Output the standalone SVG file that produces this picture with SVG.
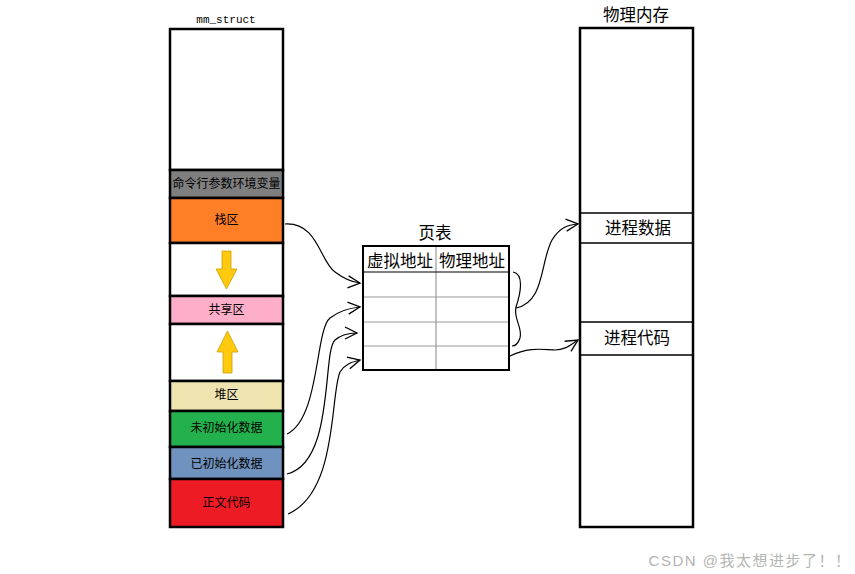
<svg xmlns="http://www.w3.org/2000/svg" width="855" height="574" viewBox="0 0 855 574">
<style>
.seg{stroke:#000;stroke-width:2.5}
.lbl{font-family:"Liberation Serif","Noto Sans CJK SC",serif;font-size:12px;text-anchor:middle;dominant-baseline:central;fill:#000}
.big{font-family:"Liberation Serif","Noto Sans CJK SC",serif;font-size:16.5px;text-anchor:middle;dominant-baseline:central;fill:#000}
.conn{fill:none;stroke:#000;stroke-width:1.2}
.ya{fill:#FFC90E;stroke:#C8A000;stroke-width:0.8}
.grid{stroke:#999;stroke-width:1.2}
</style>
<defs>
<marker id="ah" markerUnits="userSpaceOnUse" markerWidth="16" markerHeight="16" refX="13" refY="7" orient="auto" viewBox="0 0 16 14">
<path d="M1,1 L13,7 L1,13" fill="none" stroke="#000" stroke-width="1.3"/>
</marker>
</defs>
<rect width="855" height="574" fill="#fff"/>

<g id="mm_struct">
<text x="226" y="20" style="font-family:'Liberation Mono',monospace;font-size:11px;text-anchor:middle;dominant-baseline:central">mm_struct</text>
<rect x="170" y="29" width="113" height="141" fill="#fff" class="seg"/>
</g>
<g id="env"><rect x="170" y="170" width="113" height="28" fill="#7F7F7F" class="seg"/><text class="lbl" x="226.5" y="184">命令行参数环境变量</text></g>
<g id="stack"><rect x="170" y="198" width="113" height="45" fill="#FF7F27" class="seg"/><text class="lbl" x="226.5" y="220">栈区</text></g>
<g id="gap1"><rect x="170" y="243" width="113" height="53" fill="#fff" class="seg"/>
<path class="ya" d="M222,251 L231,251 L231,269 L237,269 L226.5,289 L216,269 L222,269 Z"/></g>
<g id="shared"><rect x="170" y="296" width="113" height="28" fill="#FFAEC9" class="seg"/><text class="lbl" x="226.5" y="310">共享区</text></g>
<g id="gap2"><rect x="170" y="324" width="113" height="57" fill="#fff" class="seg"/>
<path class="ya" d="M223,373 L232,373 L232,352 L238,352 L227.5,331 L217,352 L223,352 Z"/></g>
<g id="heap"><rect x="170" y="381" width="113" height="30" fill="#EFE4B0" class="seg"/><text class="lbl" x="226.5" y="395">堆区</text></g>
<g id="bss"><rect x="170" y="411" width="113" height="36" fill="#22B14C" class="seg"/><text class="lbl" x="226.5" y="428">未初始化数据</text></g>
<g id="data"><rect x="170" y="447" width="113" height="32" fill="#7092BE" class="seg"/><text class="lbl" x="226.5" y="464">已初始化数据</text></g>
<g id="text"><rect x="170" y="479" width="113" height="48" fill="#ED1C24" class="seg"/><text class="lbl" x="226.5" y="503">正文代码</text></g>

<g id="pagetable">
<text class="big" x="435" y="233">页表</text>
<rect x="363" y="246" width="146" height="124" fill="#fff" stroke="#000" stroke-width="2"/>
<line class="grid" x1="436" y1="247" x2="436" y2="369"/>
<line x1="364" y1="272" x2="508" y2="272" stroke="#000" stroke-width="1.2"/>
<line class="grid" x1="364" y1="297" x2="508" y2="297"/>
<line class="grid" x1="364" y1="322" x2="508" y2="322"/>
<line class="grid" x1="364" y1="346" x2="508" y2="346"/>
<text class="big" x="400" y="261">虚拟地址</text>
<text class="big" x="472" y="261">物理地址</text>
</g>

<g id="physmem">
<text class="big" x="636" y="15">物理内存</text>
<rect x="580" y="28" width="113" height="499" fill="#fff" stroke="#000" stroke-width="2.5"/>
<line x1="580" y1="213" x2="693" y2="213" stroke="#000" stroke-width="1.5"/>
<line x1="580" y1="243" x2="693" y2="243" stroke="#000" stroke-width="1.5"/>
<text class="big" x="638" y="228">进程数据</text>
<line x1="580" y1="322" x2="693" y2="322" stroke="#000" stroke-width="1.5"/>
<line x1="580" y1="355" x2="693" y2="355" stroke="#000" stroke-width="1.5"/>
<text class="big" x="637" y="338">进程代码</text>
</g>

<g id="connectors">
<path class="conn" marker-end="url(#ah)" d="M285,224 C318,222 320,262 335,272 C343,278 350,282 360,283"/>
<path class="conn" marker-end="url(#ah)" d="M287,434 C320,418 315,330 330,318 C340,310 350,308 360,307"/>
<path class="conn" marker-end="url(#ah)" d="M287,474 C335,462 322,352 335,340 C342,334 350,333 357,333"/>
<path class="conn" marker-end="url(#ah)" d="M288,514 C338,492 330,395 340,372 C345,364 352,362 360,360"/>
<path class="conn" d="M513,272 C524,274 521,292 516,307 C513,318 523,328 520,338 C518,344 515,346 512,346"/>
<path class="conn" marker-end="url(#ah)" d="M516,308 C545,302 540,262 552,240 C560,227 568,225 578,224"/>
<path class="conn" marker-end="url(#ah)" d="M510,356 C530,346 545,350 555,350 C565,350 570,345 578,340"/>
</g>

<text x="750" y="560" style="font-family:'Liberation Sans','Noto Sans CJK SC',sans-serif;font-size:15px;letter-spacing:1.5px;fill:#b4b4b4;text-anchor:middle;dominant-baseline:central">CSDN @我太想进步了！！</text>
</svg>
